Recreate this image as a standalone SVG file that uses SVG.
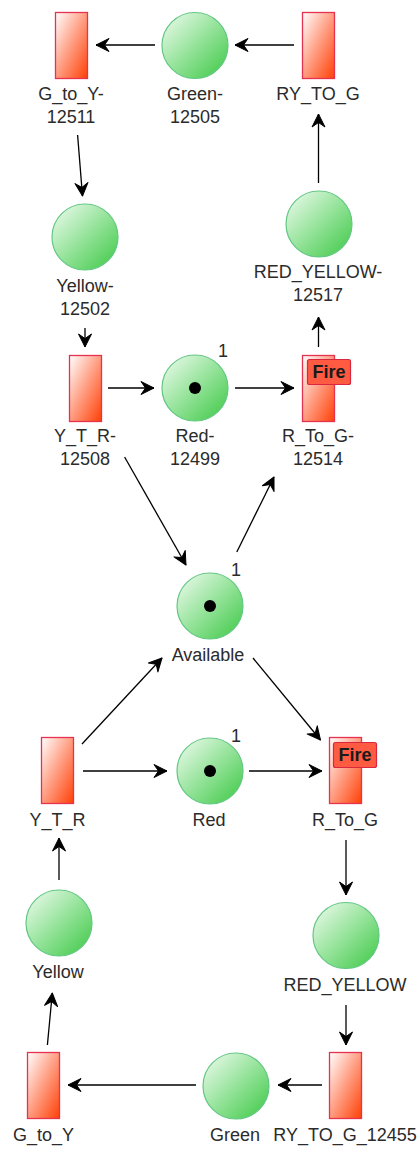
<svg xmlns="http://www.w3.org/2000/svg" width="419" height="1149" viewBox="0 0 419 1149">
  <defs>
    <linearGradient id="transFill" x1="0" y1="0" x2="1" y2="1">
      <stop offset="0" stop-color="#ffffff"/>
      <stop offset="0.5" stop-color="#ff9c80"/>
      <stop offset="1" stop-color="#ff4006"/>
    </linearGradient>
    <linearGradient id="placeFill" x1="0" y1="0" x2="1" y2="1">
      <stop offset="0" stop-color="#f2fcf2"/>
      <stop offset="0.5" stop-color="#95e39a"/>
      <stop offset="1" stop-color="#3cc843"/>
    </linearGradient>
    <marker id="arrow" markerUnits="userSpaceOnUse" markerWidth="16" markerHeight="16" viewBox="-14 -8 16 16" refX="0" refY="0" orient="auto">
      <path d="M0,0 L-13,-6.5 L-8.5,0 L-13,6.5 Z" fill="#000" stroke="#000" stroke-width="1" stroke-linejoin="round"/>
    </marker>
    <style>
      .trans { fill: url(#transFill); stroke: #e5334f; stroke-width: 1.3; }
      .place { fill: url(#placeFill); stroke: #63c784; stroke-width: 1.2; }
      .token { fill: #000; }
      .lbl { font-family: "Liberation Sans", Arial, sans-serif; font-size: 18px; fill: #2b2b2b; text-anchor: middle; }
      .fire rect { fill: #ff5b42; stroke: #d8283f; stroke-width: 1.2; }
      .fire text { font-family: "Liberation Sans", Arial, sans-serif; font-size: 18px; font-weight: bold; fill: #1a1a1a; text-anchor: middle; }
      .arc { stroke: #000; stroke-width: 1.3; fill: none; marker-end: url(#arrow); }
    </style>
  </defs>

  <!-- arcs -->
  <g id="connectors">
    <line class="arc" x1="294" y1="45" x2="235" y2="45"/>
    <line class="arc" x1="155" y1="45" x2="96" y2="45"/>
    <line class="arc" x1="77.6" y1="135" x2="82.5" y2="196"/>
    <line class="arc" x1="85" y1="328" x2="85" y2="347"/>
    <line class="arc" x1="108" y1="388" x2="154" y2="388"/>
    <line class="arc" x1="235" y1="388" x2="294" y2="388"/>
    <line class="arc" x1="318.5" y1="347" x2="318.5" y2="317"/>
    <line class="arc" x1="318.5" y1="183" x2="318.5" y2="114"/>
    <line class="arc" x1="124.6" y1="457" x2="186" y2="565"/>
    <line class="arc" x1="236.8" y1="552" x2="274" y2="477"/>
    <line class="arc" x1="82" y1="744" x2="162" y2="658"/>
    <line class="arc" x1="253" y1="658" x2="320.5" y2="740"/>
    <line class="arc" x1="83" y1="771" x2="167" y2="771"/>
    <line class="arc" x1="249" y1="771" x2="322" y2="771"/>
    <line class="arc" x1="346" y1="840" x2="346" y2="895"/>
    <line class="arc" x1="346" y1="1005" x2="346" y2="1045"/>
    <line class="arc" x1="322" y1="1085" x2="278" y2="1085"/>
    <line class="arc" x1="196" y1="1085" x2="68" y2="1085"/>
    <line class="arc" x1="47.4" y1="1045" x2="52.3" y2="993"/>
    <line class="arc" x1="59" y1="880" x2="59" y2="838"/>
  </g>

  <!-- upper net -->
  <g id="G_to_Y-12511">
    <rect class="trans" x="55.5" y="12.5" width="32" height="66"/>
    <text class="lbl" x="71" y="100">G_to_Y-</text>
    <text class="lbl" x="71" y="123">12511</text>
  </g>
  <g id="Green-12505">
    <circle class="place" cx="195" cy="45.5" r="33"/>
    <text class="lbl" x="195" y="100">Green-</text>
    <text class="lbl" x="195" y="123">12505</text>
  </g>
  <g id="RY_TO_G">
    <rect class="trans" x="302.5" y="12.5" width="32" height="66"/>
    <text class="lbl" x="318" y="100">RY_TO_G</text>
  </g>
  <g id="Yellow-12502">
    <circle class="place" cx="85" cy="237" r="33"/>
    <text class="lbl" x="85" y="292">Yellow-</text>
    <text class="lbl" x="85" y="315">12502</text>
  </g>
  <g id="RED_YELLOW-12517">
    <circle class="place" cx="319" cy="224" r="33"/>
    <text class="lbl" x="318" y="278">RED_YELLOW-</text>
    <text class="lbl" x="318" y="301">12517</text>
  </g>
  <g id="Y_T_R-12508">
    <rect class="trans" x="69.5" y="355.5" width="32" height="66"/>
    <text class="lbl" x="85" y="442">Y_T_R-</text>
    <text class="lbl" x="85" y="465">12508</text>
  </g>
  <g id="Red-12499">
    <circle class="place" cx="195" cy="388" r="33"/>
    <circle class="token" cx="195" cy="388" r="6"/>
    <text class="lbl" x="223" y="357">1</text>
    <text class="lbl" x="195" y="442">Red-</text>
    <text class="lbl" x="195" y="465">12499</text>
  </g>
  <g id="R_To_G-12514">
    <rect class="trans" x="302.5" y="355.5" width="32" height="66"/>
    <g class="fire">
      <rect x="307.5" y="359.5" width="43" height="25" rx="2"/>
      <text x="329" y="377.5">Fire</text>
    </g>
    <text class="lbl" x="318" y="442">R_To_G-</text>
    <text class="lbl" x="318" y="465">12514</text>
  </g>

  <!-- shared place -->
  <g id="Available">
    <circle class="place" cx="210" cy="606" r="33"/>
    <circle class="token" cx="210" cy="606" r="6"/>
    <text class="lbl" x="236" y="576">1</text>
    <text class="lbl" x="208" y="661">Available</text>
  </g>

  <!-- lower net -->
  <g id="Y_T_R">
    <rect class="trans" x="41.5" y="737.5" width="32" height="66"/>
    <text class="lbl" x="57.5" y="826">Y_T_R</text>
  </g>
  <g id="Red">
    <circle class="place" cx="210" cy="771" r="33"/>
    <circle class="token" cx="210" cy="771" r="6"/>
    <text class="lbl" x="236" y="742">1</text>
    <text class="lbl" x="209" y="826">Red</text>
  </g>
  <g id="R_To_G">
    <rect class="trans" x="329.5" y="737.5" width="32" height="66"/>
    <g class="fire">
      <rect x="333.5" y="742.5" width="43" height="25" rx="2"/>
      <text x="355" y="760.5">Fire</text>
    </g>
    <text class="lbl" x="345" y="826">R_To_G</text>
  </g>
  <g id="Yellow">
    <circle class="place" cx="59" cy="923" r="33"/>
    <text class="lbl" x="58" y="978">Yellow</text>
  </g>
  <g id="RED_YELLOW">
    <circle class="place" cx="346" cy="935.5" r="33"/>
    <text class="lbl" x="345" y="991">RED_YELLOW</text>
  </g>
  <g id="G_to_Y">
    <rect class="trans" x="27.5" y="1052.5" width="32" height="66"/>
    <text class="lbl" x="43.5" y="1141">G_to_Y</text>
  </g>
  <g id="Green">
    <circle class="place" cx="236" cy="1086" r="33"/>
    <text class="lbl" x="235" y="1141">Green</text>
  </g>
  <g id="RY_TO_G_12455">
    <rect class="trans" x="329.5" y="1052.5" width="32" height="66"/>
    <text class="lbl" x="345" y="1141">RY_TO_G_12455</text>
  </g>
</svg>
